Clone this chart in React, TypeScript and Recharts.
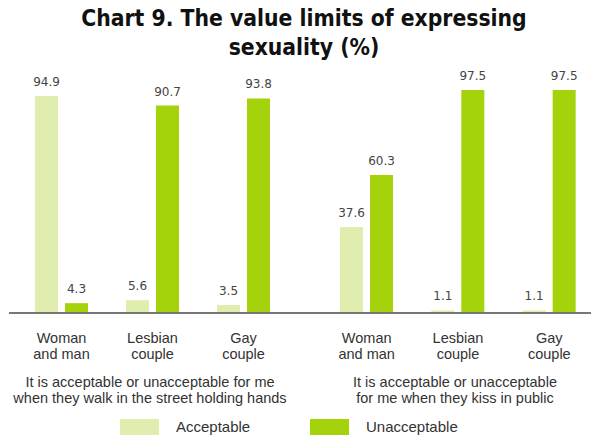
import React from "react";
import { BarChart, Bar, XAxis, YAxis, LabelList } from "recharts";

const categories = ["Woman\nand man", "Lesbian\ncouple", "Gay\ncouple"];
const seriesNames = ["Acceptable", "Unacceptable"];
const holdingAcceptable = [94.9, 5.6, 3.5];
const holdingUnacceptable = [4.3, 90.7, 93.8];
const kissingAcceptable = [37.6, 1.1, 1.1];
const kissingUnacceptable = [60.3, 97.5, 97.5];
const captions = [
  ["It is acceptable or unacceptable for me", "when they walk in the street holding hands"],
  ["It is acceptable or unacceptable", "for me when they kiss in public"],
];

const LIGHT = "#dfedaf";
const GREEN = "#a4d30b";
const TEXT_FONT = '"Liberation Sans", Arial, sans-serif';

const toRows = (acc: number[], unacc: number[]) =>
  categories.map((name, i) => ({ name, acceptable: acc[i], unacceptable: unacc[i] }));

const holdingData = toRows(holdingAcceptable, holdingUnacceptable);
const kissingData = toRows(kissingAcceptable, kissingUnacceptable);

function CategoryTick({ x, y, payload }: any) {
  const lines = String(payload.value).split("\n");
  return (
    <text textAnchor="middle" fontFamily={TEXT_FONT} fontSize={14.5} fill="#333">
      {lines.map((l, i) => (
        <tspan key={i} x={x} y={y + 30 + i * 16}>
          {l}
        </tspan>
      ))}
    </text>
  );
}

function Panel({ data, width, left, padding }: any) {
  return (
    <div style={{ position: "absolute", left, top: 0 }}>
      <BarChart
        width={width}
        height={363}
        data={data}
        margin={{ top: 84.3, right: 0, bottom: 0, left: left === 0 ? 9 : 0 }}
        barSize={23}
        barGap={7}
      >
        <XAxis
          dataKey="name"
          axisLine={{ stroke: "#777", strokeWidth: 2 }}
          tickLine={false}
          tickSize={0}
          tickMargin={0}
          height={50}
          padding={padding}
          interval={0}
          tick={<CategoryTick />}
        />
        <YAxis hide domain={[0, 100]} />
        <Bar dataKey="acceptable" fill={LIGHT} isAnimationActive={false}>
          <LabelList
            dataKey="acceptable"
            position="top"
            offset={10}
            fill="#444"
            fontFamily="DejaVu Sans"
            fontSize={12}
          />
        </Bar>
        <Bar dataKey="unacceptable" fill={GREEN} isAnimationActive={false}>
          <LabelList
            dataKey="unacceptable"
            position="top"
            offset={10}
            fill="#444"
            fontFamily="DejaVu Sans"
            fontSize={12}
          />
        </Bar>
      </BarChart>
    </div>
  );
}

export default function App() {
  return (
    <div
      style={{
        position: "absolute",
        left: 0,
        top: 0,
        width: 591,
        height: 435,
        overflow: "hidden",
        background: "#fff",
      }}
    >
      <div
        style={{
          position: "absolute",
          top: 4,
          left: 0,
          width: 608,
          textAlign: "center",
          fontFamily: '"Liberation Sans Narrow", "DejaVu Sans Condensed", sans-serif',
          fontWeight: "bold",
          fontSize: 22.7,
          lineHeight: "29px",
          color: "#111",
        }}
      >
        Chart 9. The value limits of expressing
        <br />
        sexuality (%)
      </div>

      <Panel data={holdingData} width={300} left={0} padding={{ left: 7, right: 11 }} />
      <Panel data={kissingData} width={296} left={300} padding={{ left: 21, right: 1 }} />

      {captions.map((lines, i) => (
        <div
          key={i}
          style={{
            position: "absolute",
            top: 374,
            left: i === 0 ? 0 : 305,
            width: 300,
            textAlign: "center",
            fontFamily: TEXT_FONT,
            fontSize: 14.5,
            lineHeight: "16px",
            color: "#333",
          }}
        >
          {lines[0]}
          <br />
          {lines[1]}
        </div>
      ))}

      {seriesNames.map((name, i) => (
        <div
          key={name}
          style={{
            position: "absolute",
            top: 419,
            left: 120 + i * 190,
            display: "flex",
            alignItems: "flex-start",
            fontFamily: TEXT_FONT,
            fontSize: 15,
            lineHeight: "16px",
            color: "#333",
          }}
        >
          <span style={{ width: 39, height: 16, background: i === 0 ? LIGHT : GREEN }} />
          <span style={{ marginLeft: 17 }}>{name}</span>
        </div>
      ))}
    </div>
  );
}
